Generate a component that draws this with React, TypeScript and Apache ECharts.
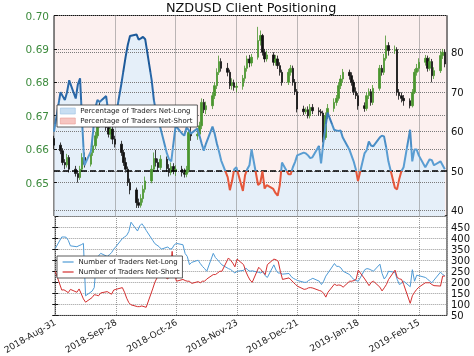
import React, { useEffect, useRef } from 'react';
import * as echarts from 'echarts';

const FONT = 'DejaVu Sans';
const START_UTC = Date.UTC(2018, 7, 31);
const xTickLabels = ['2018-Aug-31', '2018-Sep-28', '2018-Oct-26', '2018-Nov-23', '2018-Dec-21', '2019-Jan-18', '2019-Feb-15'];

const firstOpen = 0.6632;
const closes = [0.6612,
  0.6595, 0.6560, 0.6553, 0.6575, 0.6540,
  0.6527, 0.6515, 0.6540, 0.6575, 0.6555,
  0.6590, 0.6610, 0.6640, 0.6695, 0.6680,
  0.6665, 0.6645, 0.6660, 0.6630, 0.6615,
  0.6590, 0.6560, 0.6540, 0.6500, 0.6478,
  0.6440, 0.6432, 0.6452, 0.6480, 0.6505,
  0.6540, 0.6572, 0.6560, 0.6545, 0.6570,
  0.6542, 0.6530, 0.6548, 0.6535, 0.6540,
  0.6530, 0.6525, 0.6538, 0.6650, 0.6640,
  0.6645, 0.6670, 0.6740, 0.6718, 0.6730,
  0.6760, 0.6790, 0.6830, 0.6862, 0.6842,
  0.6830, 0.6790, 0.6798, 0.6785, 0.6788,
  0.6812, 0.6842, 0.6870, 0.6858, 0.6875,
  0.6925, 0.6940, 0.6890, 0.6870, 0.6882,
  0.6860, 0.6870, 0.6850, 0.6830, 0.6800,
  0.6830, 0.6842, 0.6800, 0.6772, 0.6720,
  0.6712, 0.6718, 0.6700, 0.6725, 0.6715,
  0.6712, 0.6708, 0.6635, 0.6700, 0.6722,
  0.6740, 0.6752, 0.6790, 0.6810, 0.6830,
  0.6820, 0.6800, 0.6772, 0.6760, 0.6730,
  0.6722, 0.6760, 0.6772, 0.6740, 0.6782,
  0.6842, 0.6830, 0.6872, 0.6910, 0.6895,
  0.6898, 0.6770, 0.6760, 0.6752, 0.6745,
  0.6730, 0.6770, 0.6830, 0.6842, 0.6860,
  0.6872, 0.6842, 0.6862, 0.6820, 0.6835,
  0.6880, 0.6890, 0.6855];

const lows = [0.6600,
  0.6585, 0.6552, 0.6540, 0.6545, 0.6530,
  0.6518, 0.6500, 0.6508, 0.6532, 0.6545,
  0.6548, 0.6580, 0.6600, 0.6632, 0.6665,
  0.6655, 0.6635, 0.6630, 0.6615, 0.6605,
  0.6580, 0.6550, 0.6530, 0.6490, 0.6465,
  0.6424, 0.6424, 0.6425, 0.6440, 0.6470,
  0.6498, 0.6532, 0.6548, 0.6535, 0.6538,
  0.6532, 0.6518, 0.6522, 0.6525, 0.6520,
  0.6518, 0.6515, 0.6516, 0.6530, 0.6625,
  0.6628, 0.6636, 0.6660, 0.6708, 0.6705,
  0.6720, 0.6750, 0.6780, 0.6822, 0.6832,
  0.6818, 0.6780, 0.6778, 0.6775, 0.6770,
  0.6778, 0.6802, 0.6832, 0.6845, 0.6848,
  0.6868, 0.6910, 0.6880, 0.6860, 0.6862,
  0.6850, 0.6850, 0.6840, 0.6820, 0.6790,
  0.6792, 0.6820, 0.6790, 0.6762, 0.6710,
  0.6702, 0.6705, 0.6692, 0.6692, 0.6705,
  0.6700, 0.6700, 0.6620, 0.6628, 0.6690,
  0.6712, 0.6730, 0.6745, 0.6780, 0.6800,
  0.6808, 0.6790, 0.6762, 0.6750, 0.6718,
  0.6712, 0.6715, 0.6750, 0.6730, 0.6732,
  0.6775, 0.6820, 0.6822, 0.6865, 0.6880,
  0.6885, 0.6760, 0.6748, 0.6740, 0.6730,
  0.6722, 0.6725, 0.6765, 0.6820, 0.6832,
  0.6850, 0.6832, 0.6835, 0.6800, 0.6810,
  0.6828, 0.6870, 0.6845];

const highs = [0.6640,
  0.6620, 0.6603, 0.6570, 0.6586, 0.6582,
  0.6550, 0.6535, 0.6550, 0.6588, 0.6590,
  0.6600, 0.6622, 0.6652, 0.6725, 0.6740,
  0.6690, 0.6675, 0.6680, 0.6670, 0.6640,
  0.6625, 0.6598, 0.6575, 0.6548, 0.6512,
  0.6485, 0.6452, 0.6465, 0.6492, 0.6518,
  0.6552, 0.6590, 0.6598, 0.6572, 0.6582,
  0.6578, 0.6555, 0.6560, 0.6558, 0.6552,
  0.6550, 0.6542, 0.6550, 0.6660, 0.6672,
  0.6658, 0.6682, 0.6752, 0.6750, 0.6742,
  0.6770, 0.6800, 0.6842, 0.6880, 0.6872,
  0.6858, 0.6838, 0.6812, 0.6808, 0.6800,
  0.6822, 0.6850, 0.6880, 0.6882, 0.6885,
  0.6966, 0.6955, 0.6945, 0.6900, 0.6895,
  0.6890, 0.6882, 0.6880, 0.6860, 0.6838,
  0.6840, 0.6852, 0.6850, 0.6810, 0.6780,
  0.6730, 0.6725, 0.6728, 0.6735, 0.6735,
  0.6725, 0.6720, 0.6715, 0.6710, 0.6735,
  0.6752, 0.6762, 0.6800, 0.6822, 0.6840,
  0.6838, 0.6830, 0.6808, 0.6785, 0.6768,
  0.6740, 0.6770, 0.6782, 0.6780, 0.6792,
  0.6852, 0.6852, 0.6885, 0.6940, 0.6920,
  0.6910, 0.6905, 0.6780, 0.6770, 0.6762,
  0.6752, 0.6780, 0.6840, 0.6855, 0.6872,
  0.6882, 0.6880, 0.6875, 0.6870, 0.6845,
  0.6895, 0.6900, 0.6898];

const pctNetLong = [60,
  70, 69, 68, 70, 73,
  68.4, 72, 73.5, 62, 51.5,
  55, 60, 66, 68, 67.5,
  69, 65, 64, 62, 62.5,
  72, 75.5, 79, 82, 84.2,
  84.6, 83.3, 83.6, 84, 83.4,
  73, 68, 65, 62.5, 61,
  54.5, 53, 52.5, 57, 61.5,
  59.5, 59, 61, 60.5, 59.5,
  60.8, 59, 57, 55.2, 57,
  61.3, 59.5, 57, 55, 52.7,
  48.5, 45.2, 47.5, 50.5, 51,
  45, 49, 50.5, 51.5, 55.5,
  46.5, 47, 50, 45.6, 46.5,
  45.5, 44.5, 43.8, 46.5, 52.2,
  49.2, 49.2, 51, 52.3, 54,
  54.7, 54.5, 54, 53.3, 53.5,
  56.4, 52, 57, 61, 64.8,
  60.5, 60.3, 60.2, 60.3, 58.5,
  55.5, 54, 52.5, 50.5, 47.5,
  54.5, 55.3, 57.5, 56.5, 56.3,
  58.5, 59, 58.8, 56, 52.5,
  45.8, 45.4, 48, 50, 51,
  60.5, 52.5, 55.5, 55.5, 54,
  51, 52, 53, 52.8, 51.5,
  52.5, 51.5, 50.5];

const numNetLong = [353,
  405, 405, 404, 390, 365,
  361, 366, 370, 376, 139,
  160, 176, 300, 320, 331,
  317, 325, 334, 350, 361,
  398, 405, 412, 430, 472,
  432, 455, 465, 452, 435,
  390, 375, 368, 361, 350,
  360, 350, 353, 370, 376,
  370, 330, 317, 280, 290,
  300, 285, 272, 262, 250,
  331, 312, 302, 290, 279,
  262, 258, 250, 242, 250,
  254, 265, 255, 250, 252,
  245, 242, 250, 230, 222,
  279, 255, 242, 242, 237,
  240, 226, 218, 213, 208,
  200, 200, 208, 213, 218,
  205, 190, 205, 228, 242,
  285, 272, 272, 265, 250,
  235, 222, 213, 208, 205,
  257, 262, 260, 255, 250,
  282, 240, 215, 228, 250,
  245, 213, 190, 196, 205,
  180, 257, 205, 232, 230,
  222, 215, 205, 198, 210,
  246, 235, 230];

const numNetShort = [250,
  165, 166, 160, 153, 168,
  155, 170, 148, 125, 110,
  131, 144, 142, 139, 152,
  158, 152, 146, 165, 168,
  176, 155, 128, 108, 98,
  90, 90, 93, 90, 87,
  170, 200, 220, 240, 235,
  215, 240, 340, 240, 205,
  213, 208, 205, 205, 195,
  203, 198, 205, 205, 215,
  235, 235, 242, 250, 250,
  310, 300, 287, 270, 305,
  280, 250, 228, 210, 200,
  268, 258, 245, 235, 280,
  305, 302, 295, 250, 213,
  220, 210, 200, 190, 182,
  168, 170, 175, 176, 174,
  163, 160, 150, 133, 155,
  192, 186, 188, 186, 178,
  205, 205, 208, 213, 255,
  215, 200, 185, 200, 205,
  178, 161, 175, 190, 213,
  255, 222, 216, 213, 190,
  105, 139, 155, 168, 178,
  198, 198, 198, 190, 185,
  183, 228, 228];

// day offsets (from 2018-08-31) of each trading day (weekdays)
function tradingDayOffsets(n: number): number[] {
  const out: number[] = [];
  for (let d = 0; out.length < n; d++) {
    const wd = new Date(START_UTC + d * 86400000).getUTCDay();
    if (wd !== 0 && wd !== 6) out.push(d);
  }
  return out;
}

export default function App() {
  const ref = useRef<HTMLDivElement>(null);
  useEffect(() => {
    const chart = echarts.init(ref.current!, null, { renderer: 'svg' });
    const xs = tradingDayOffsets(closes.length);
    const candles = closes.map((c, i) => [xs[i], i === 0 ? firstOpen : closes[i - 1], c, lows[i], highs[i]]);
    const pctData = pctNetLong.map((v, i) => [xs[i], v]);
    const longData = numNetLong.map((v, i) => [xs[i], v]);
    const shortData = numNetShort.map((v, i) => [xs[i], v]);

    const xLabelFmt = (v: number) => {
      const i = Math.round(v / 28);
      return Math.abs(v - i * 28) < 1e-6 ? (xTickLabels[i] ?? '') : '';
    };
    const gridLine = (c: string) => ({ show: true, lineStyle: { color: c, type: 'dotted', width: 1 } });

    const option: any = {
      animation: false,
      textStyle: { fontFamily: FONT },
      title: {
        text: 'NZDUSD Client Positioning', left: 166, top: 1, padding: 0,
        textStyle: { fontFamily: FONT, fontSize: 12.8, fontWeight: 'normal', color: '#111' },
      },
      grid: [
        { left: 54, right: 27, top: 15.5, height: 200.5, show: true, backgroundColor: '#fcf0ef', borderColor: '#111', borderWidth: 1, z: 0 },
        { left: 54, right: 27, top: 216, height: 101, show: true, backgroundColor: '#ffffff', borderColor: '#111', borderWidth: 1, z: 0 },
      ],
      xAxis: [
        {
          type: 'value', gridIndex: 0, min: 0, max: 181, interval: 28, z: 2,
          axisLabel: { show: false }, axisTick: { show: false }, axisLine: { show: false },
          splitLine: gridLine('#7a7a7a'),
        },
        {
          type: 'value', gridIndex: 1, min: 0, max: 181, interval: 28, z: 2,
          axisLabel: { show: true, rotate: 30, margin: 6, fontSize: 9, color: '#222', fontFamily: FONT, formatter: xLabelFmt, showMaxLabel: false },
          axisTick: { show: false }, axisLine: { show: false },
          splitLine: gridLine('#9a9a9a'),
        },
      ],
      yAxis: [
        {
          type: 'value', gridIndex: 0, position: 'left', min: 0.64, max: 0.70, interval: 0.01, z: 2,
          axisLabel: { color: '#3d8b3d', fontSize: 10.5, fontFamily: FONT, margin: 5, showMinLabel: false, formatter: (v: number) => v.toFixed(2) },
          axisLine: { show: false }, axisTick: { show: true, inside: true, length: 3, lineStyle: { color: '#111' } },
          splitLine: gridLine('#7a7a7a'),
        },
        {
          type: 'value', gridIndex: 0, position: 'right', min: 38.66, max: 89.4, splitNumber: 5, z: 2,
          axisLabel: {
            color: '#111', fontSize: 10, fontFamily: FONT, margin: 4, showMinLabel: false, showMaxLabel: false,
            formatter: (v: number) => (Math.abs(v - Math.round(v / 10) * 10) < 1e-6 ? String(Math.round(v)) : ''),
          },
          axisLine: { show: false }, axisTick: { show: false },
          splitLine: gridLine('#7a7a7a'),
        },
        {
          type: 'value', gridIndex: 1, position: 'right', min: 50, max: 500, interval: 50, z: 2,
          axisLabel: { color: '#111', fontSize: 10, fontFamily: FONT, margin: 4, showMaxLabel: false },
          axisLine: { show: false }, axisTick: { show: true, inside: true, length: 3, lineStyle: { color: '#111' } },
          splitLine: gridLine('#9a9a9a'),
        },
        {
          type: 'value', gridIndex: 1, position: 'left', min: 50, max: 500, interval: 50, z: 2,
          axisLabel: { show: false }, axisLine: { show: false },
          axisTick: { show: true, inside: true, length: 3, lineStyle: { color: '#111' } },
          splitLine: { show: false },
        },
      ],
      visualMap: {
        show: false, type: 'piecewise', seriesIndex: 3, dimension: 1,
        pieces: [
          { lt: 50, color: '#e5573b' },
          { gte: 50, lt: 56, color: '#5a9dd2' },
          { gte: 56, lt: 62, color: '#4a8ec6' },
          { gte: 62, lt: 68, color: '#3a7bb8' },
          { gte: 68, lt: 75, color: '#2a68a8' },
          { gte: 75, color: '#1d5a9a' },
        ],
      },
      legend: [
        {
          orient: 'vertical', left: 57, top: 105, padding: [2, 5, 2, 3], itemGap: 2,
          itemWidth: 15, itemHeight: 6, icon: 'rect', selectedMode: false, z: 10,
          backgroundColor: '#ffffff', borderColor: '#333', borderWidth: 0.8, borderRadius: 0,
          textStyle: { fontSize: 7, fontFamily: FONT, color: '#222', lineHeight: 8 },
          data: [
            { name: 'Percentage of Traders Net-Long', itemStyle: { color: '#c8def2', borderColor: '#9cc0e0', borderWidth: 0.6 } },
            { name: 'Percentage of Traders Net-Short', itemStyle: { color: '#f6c5c1', borderColor: '#e79a94', borderWidth: 0.6 } },
          ],
        },
        {
          orient: 'vertical', left: 57, top: 256, padding: [2, 3, 2, 5], itemGap: 2,
          itemWidth: 11, itemHeight: 7, selectedMode: false, z: 10,
          backgroundColor: '#ffffff', borderColor: '#333', borderWidth: 0.8, borderRadius: 0,
          itemStyle: { opacity: 0 }, lineStyle: { width: 1.2 },
          textStyle: { fontSize: 7, fontFamily: FONT, color: '#222', lineHeight: 8 },
          data: ['Number of Traders Net-Long', 'Number of Traders Net-Short'],
        },
      ],
      series: [
        {
          name: 'Percentage of Traders Net-Long', type: 'line', xAxisIndex: 0, yAxisIndex: 1,
          data: pctData, symbol: 'none', silent: true, z: 1, color: '#c8def2',
          lineStyle: { width: 0 }, areaStyle: { color: '#e5eff9', opacity: 1 },
        },
        {
          name: 'Percentage of Traders Net-Short', type: 'line', xAxisIndex: 0, yAxisIndex: 1,
          data: [], symbol: 'none', color: '#f6c5c1',
        },
        {
          name: 'NZDUSD', type: 'candlestick', xAxisIndex: 0, yAxisIndex: 0, z: 3,
          data: candles, encode: { x: 0, y: [1, 2, 3, 4] }, barWidth: 2,
          itemStyle: { color: '#4a962f', color0: '#111111', borderColor: '#4a962f', borderColor0: '#111111', borderWidth: 0.8 },
        },
        {
          name: 'pct', type: 'line', xAxisIndex: 0, yAxisIndex: 1, z: 5,
          data: pctData, symbol: 'none', silent: true, lineStyle: { width: 2 },
        },
        {
          name: 'ref50', type: 'line', xAxisIndex: 0, yAxisIndex: 1, z: 4, data: [], symbol: 'none',
          markLine: {
            silent: true, symbol: 'none', label: { show: false },
            lineStyle: { color: '#000', type: [6, 3], width: 1.5 },
            data: [{ yAxis: 50 }],
          },
        },
        {
          name: 'Number of Traders Net-Long', type: 'line', xAxisIndex: 1, yAxisIndex: 2, z: 3,
          data: longData, symbol: 'none', color: '#4f9bd6', lineStyle: { width: 1 },
        },
        {
          name: 'Number of Traders Net-Short', type: 'line', xAxisIndex: 1, yAxisIndex: 2, z: 3,
          data: shortData, symbol: 'none', color: '#d42f2f', lineStyle: { width: 1 },
        },
      ],
    };
    chart.setOption(option);
    return () => chart.dispose();
  }, []);
  return <div ref={ref} style={{ position: 'fixed', left: 0, top: 0, width: 474, height: 356 }} />;
}
